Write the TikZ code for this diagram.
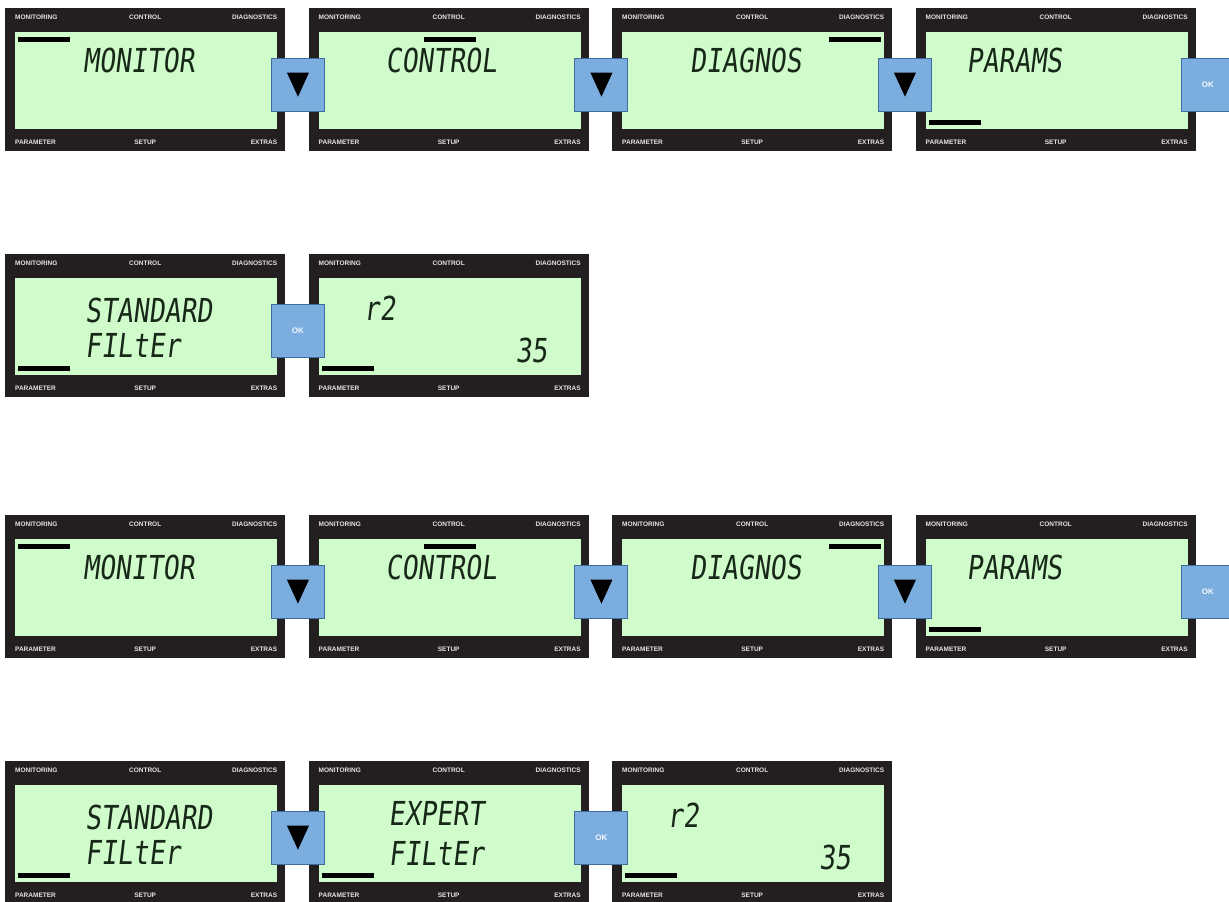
\documentclass[tikz,border=0pt]{standalone}
\usepackage{fontspec}
\usepackage{tikz}
\usetikzlibrary{positioning,calc}
\setsansfont{Liberation Sans}
\newfontfamily\lcdfont[FakeSlant=0.12,FakeStretch=0.8]{DejaVu Sans Mono}
\definecolor{LcdDark}{HTML}{231F20}
\definecolor{LcdGreen}{HTML}{D0FBCB}
\definecolor{LcdInk}{HTML}{182818}
\definecolor{KeyBlue}{HTML}{7BADDF}
\definecolor{KeyEdge}{HTML}{3F6E9E}

\begin{document}
\begin{tikzpicture}[x=1pt,y=-1pt,font=\sffamily,
  panel/.style={fill=LcdDark,minimum width=280pt,minimum height=143pt,inner sep=0pt,anchor=north west},
  screen/.style={fill=LcdGreen,minimum width=262pt,minimum height=97pt,inner sep=0pt},
  tag/.style={text=white!80!gray,font=\fontsize{6.5}{6.5}\sffamily\bfseries,inner sep=0pt},
  lcd/.style={text=LcdInk,font=\fontsize{33}{33}\lcdfont,inner sep=0pt,anchor=base west},
  selbar/.style={fill=black,minimum width=52pt,minimum height=5pt,inner sep=0pt,anchor=north west},
  key/.style={draw=KeyEdge,fill=KeyBlue,line width=1pt,minimum size=53pt,inner sep=0pt},
  oktext/.style={text=white!92!KeyBlue,font=\fontsize{8}{8}\sffamily\bfseries}]
  \useasboundingbox[fill=white] (0,0) rectangle (1229,902);

  % the display panels, row by row
  \foreach \n/\x/\y in {pa/5/8,pb/308.5/8,pc/612/8,pd/915.5/8,pe/5/254,pf/308.5/254,
      pg/5/515,ph/308.5/515,pi/612/515,pj/915.5/515,pk/5/761,pl/308.5/761,pm/612/761} {
    \node[panel] (\n) at (\x,\y) {};
    \node[screen,below right=24pt and 10pt of \n.north west,anchor=north west] (\n-scr) {};
    \node[tag,below right=7pt and 10pt of \n.north west,anchor=north west] {MONITORING};
    \node[tag,below=7pt of \n.north,anchor=north] {CONTROL};
    \node[tag,below left=7pt and 8pt of \n.north east,anchor=north east] {DIAGNOSTICS};
    \node[tag,above right=7pt and 10pt of \n.south west,anchor=south west] {PARAMETER};
    \node[tag,above=7pt of \n.south,anchor=south] {SETUP};
    \node[tag,above left=7pt and 8pt of \n.south east,anchor=south east] {EXTRAS};
  }

  % selection marks
  \node[selbar] (sa) at ($(pa.north west)+(13,29)$) {};
  \node[selbar] (sb) at ($(pb.north west)+(115,29)$) {};
  \node[selbar] (sc) at ($(pc.north west)+(217,29)$) {};
  \node[selbar] (sd) at ($(pd.north west)+(13,112)$) {};
  \node[selbar] (se) at ($(pe.north west)+(13,112)$) {};
  \node[selbar] (sf) at ($(pf.north west)+(13,112)$) {};
  \node[selbar] (sg) at ($(pg.north west)+(13,29)$) {};
  \node[selbar] (sh) at ($(ph.north west)+(115,29)$) {};
  \node[selbar] (si) at ($(pi.north west)+(217,29)$) {};
  \node[selbar] (sj) at ($(pj.north west)+(13,112)$) {};
  \node[selbar] (sk) at ($(pk.north west)+(13,112)$) {};
  \node[selbar] (sl) at ($(pl.north west)+(13,112)$) {};
  \node[selbar] (sm) at ($(pm.north west)+(13,112)$) {};

  % display texts
  \node[lcd] (ta) at ($(pa.north west)+(78,64)$) {MONITOR};
  \node[lcd] (tb) at ($(pb.north west)+(77,64)$) {CONTROL};
  \node[lcd] (tc) at ($(pc.north west)+(78,64)$) {DIAGNOS};
  \node[lcd] (td) at ($(pd.north west)+(51,64)$) {PARAMS};
  \node[lcd] (te1) at ($(pe.north west)+(80,68)$) {STANDARD};
  \node[lcd] (te2) at ($(pe.north west)+(80,103)$) {FILtEr};
  \node[lcd] (tf1) at ($(pf.north west)+(55,66)$) {r2};
  \node[lcd,anchor=base east] (tf2) at ($(pf.north west)+(239,108)$) {35};
  \node[lcd] (tg) at ($(pg.north west)+(78,64)$) {MONITOR};
  \node[lcd] (th) at ($(ph.north west)+(77,64)$) {CONTROL};
  \node[lcd] (ti) at ($(pi.north west)+(78,64)$) {DIAGNOS};
  \node[lcd] (tj) at ($(pj.north west)+(51,64)$) {PARAMS};
  \node[lcd] (tk1) at ($(pk.north west)+(80,68)$) {STANDARD};
  \node[lcd] (tk2) at ($(pk.north west)+(80,103)$) {FILtEr};
  \node[lcd] (tl1) at ($(pl.north west)+(80,64)$) {EXPERT};
  \node[lcd] (tl2) at ($(pl.north west)+(80,104)$) {FILtEr};
  \node[lcd] (tm1) at ($(pm.north west)+(55,66)$) {r2};
  \node[lcd,anchor=base east] (tm2) at ($(pm.north west)+(239,108)$) {35};

  % keys between the panels
  \foreach \k/\a/\b in {ka/pa/pb,kb/pb/pc,kc/pc/pd,kg/pg/ph,kh/ph/pi,ki/pi/pj,kk/pk/pl} {
    \node[key] (\k) at ($(\a.east)!.5!(\b.west)+(1,5)$) {};
    \fill ($(\k)+(-11,-12)$) -- ++(22,0) -- ++(-11,24) -- cycle;
  }
  \node[key] (kd) at ($(pd.east)+(12,5)$) {};
  \node[key] (ke) at ($(pe.east)!.5!(pf.west)+(1,5)$) {};
  \node[key] (kj) at ($(pj.east)+(12,5)$) {};
  \node[key] (kl) at ($(pl.east)!.5!(pm.west)+(1,5)$) {};
  \foreach \k in {kd,ke,kj,kl} \node[oktext] at (\k) {OK};
\end{tikzpicture}
\end{document}
